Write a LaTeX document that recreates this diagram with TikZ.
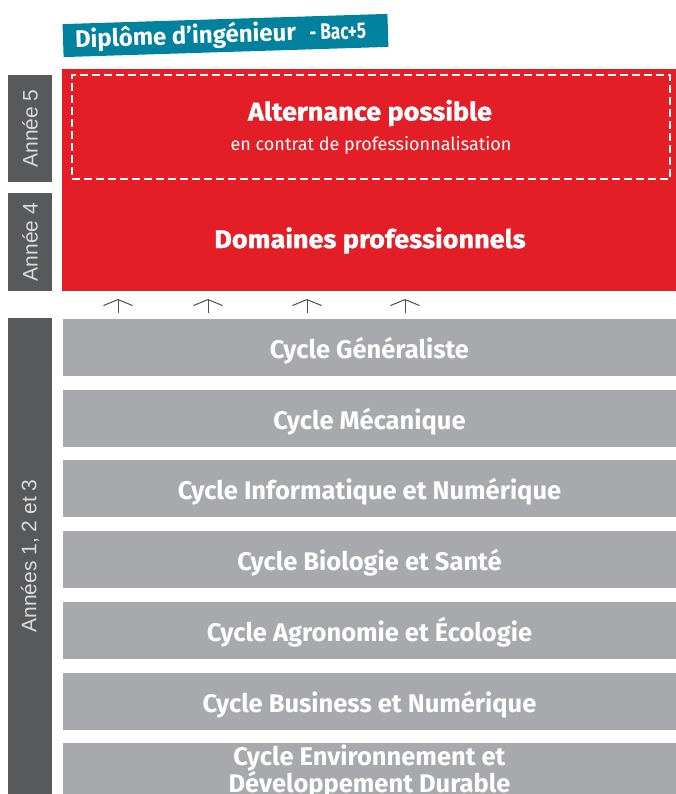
\documentclass[tikz,border=0pt]{standalone}
\usepackage{fontspec}
\setmainfont{Fira Sans}
\newfontfamily\cond{Fira Sans}
\newfontfamily\bacf{Fira Sans}[FakeStretch=0.76]
\newfontfamily\blk{Fira Sans}[FakeStretch=1.06,FakeBold=1.2]
\newfontfamily\lab{Liberation Sans}
\usetikzlibrary{arrows.meta}
\definecolor{ired}{HTML}{E31E26}
\definecolor{igrey}{HTML}{A7A9AC}
\definecolor{idark}{HTML}{58595B}
\definecolor{iteal}{HTML}{00819E}
\definecolor{ilab}{HTML}{DADADA}
\definecolor{iarrow}{HTML}{4D4D4D}
\tikzset{
  cyclebase/.style={fill=igrey, minimum width=613pt, minimum height=57pt, inner sep=0pt,
    text=white, align=center, font=\cond\bfseries\fontsize{25.5}{24}\selectfont},
  cyclebox/.style={cyclebase, text height=21pt, text depth=0pt},
  yearbox/.style={fill=idark, minimum width=44pt, inner sep=0pt, text=ilab,
    font=\lab\fontsize{21}{24}\selectfont},
  redtitle/.style={text=white, font=\blk\bfseries\fontsize{25.5}{26}\selectfont},
  uparrow/.style={draw=iarrow, line width=1pt, -{Straight Barb[length=6pt,width=29pt,line width=1pt]}},
}
\begin{document}
\begin{tikzpicture}[x=1pt,y=-1pt]
\useasboundingbox (0,0) rectangle (676,794);
\clip (0,0) rectangle (676,794);
% banner
\node[fill=iteal, rotate=1.8, minimum height=33pt, inner xsep=12pt, inner ysep=0pt,
  text=white, font=\cond\bfseries\fontsize{24}{26}\selectfont] (dip) at (225.5,35.5)
  {\makebox[301pt][l]{Diplôme d’ingénieur {\bacf\bfseries\fontsize{22.5}{24}\selectfont\, - Bac+5}}};
% red block
\node[fill=ired, minimum width=614pt, minimum height=222pt, inner sep=0pt] (red) at (369,180) {};
\node[draw=white, line width=2.5pt, dash pattern=on 8pt off 4pt, minimum width=598pt, minimum height=104pt, inner sep=0pt] (alt) at (371,127) {};
\node[redtitle] (altt) at (370,113) {Alternance possible};
\node[text=white, font=\cond\fontsize{18}{20}\selectfont] (alts) at (371,145) {en contrat de professionnalisation};
\node[redtitle] (dom) at (370,240.5) {Domaines professionnels};
% year labels
\node[yearbox, minimum height=107pt] (a5) at (30,128.5) {\rotatebox{90}{Année 5}};
\node[yearbox, minimum height=98pt] (a4) at (30,242) {\rotatebox{90}{Année 4}};
\node[yearbox, minimum height=476pt] (a123) at (30,556) {\rotatebox{90}{Années 1, 2 et 3}};
% cycles
\node[cyclebox] (c1) at (369.5,347.5) {Cycle Généraliste};
\node[cyclebox] (c2) at (369.5,418.5) {Cycle Mécanique};
\node[cyclebox] (c3) at (369.5,488.5) {Cycle Informatique et Numérique};
\node[cyclebox] (c4) at (369.5,559.5) {Cycle Biologie et Santé};
\node[cyclebox] (c5) at (369.5,630.5) {Cycle Agronomie et Écologie};
\node[cyclebox] (c6) at (369.5,701.5) {Cycle Business et Numérique};
\node[cyclebase] (c7) at (369.5,771.5) {Cycle Environnement et\\Développement Durable};
% arrows
\foreach \i/\x in {1/118,2/208,3/307,4/405}{
  \coordinate (s\i) at (\x,313);
  \coordinate (t\i) at (\x,299);
  \draw[uparrow] (s\i) -- (t\i);
}
\end{tikzpicture}
\end{document}
